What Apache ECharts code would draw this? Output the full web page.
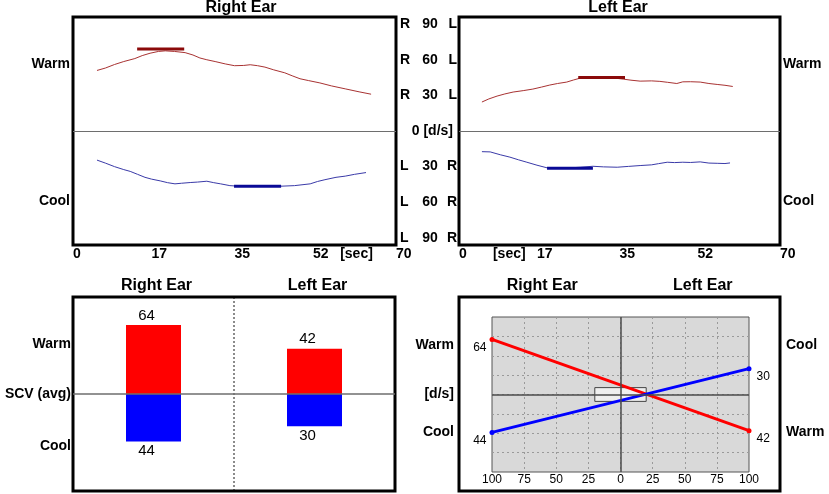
<!DOCTYPE html>
<html>
<head>
<meta charset="utf-8">
<title>Rotation test</title>
<script src="https://cdn.jsdelivr.net/npm/echarts@6/dist/echarts.min.js"></script>
<style>
	html, body { margin: 0; padding: 0; background: #fff; }
	#main { width: 829px; height: 494px; }
</style>
</head>
<body>
<div id="main"></div>
<script>
	var FONT = '"Liberation Sans", Arial, sans-serif';

	// slow component traces, [sec, deg/s]
	var rightWarm = [[5.2,51],[7,53],[9,56],[11,58.5],[13.4,61],[15,63.5],[16.7,65.5],[18.5,67],[20,67.5],[22,67],[24.3,66],[26,64],[27.5,61.5],[29,60],[30.8,58.5],[33,56.5],[35,55],[37,55.2],[38.4,55.8],[40,55],[41.6,53.8],[43.5,51.5],[45.9,49],[47.5,46.5],[49.2,44],[51,42.5],[53.5,40.5],[56,38],[59,35.5],[62,33],[64.6,31]];
	var rightCool = [[5.2,-24.5],[7,-27],[9,-30],[11,-32.5],[12.4,-34],[14,-36.5],[15.6,-39],[17,-40.5],[18.9,-42],[20.5,-43.5],[22.1,-44.5],[23.5,-44],[25.4,-43.4],[27,-43],[29,-42.3],[30.5,-43.5],[32,-44.5],[34,-46],[36,-46.5],[40,-46.5],[44.9,-46.5],[48,-46],[51.4,-44.5],[53,-42.5],[54.6,-41],[57,-39],[59,-38],[61,-36.5],[63.5,-35]];
	var leftWarm = [[5,24.4],[6.5,27],[8.3,29.4],[10,31.2],[11.8,32.8],[14,34],[16.1,35.3],[18,37],[19.8,38.7],[21.5,40],[23.5,41.2],[25,43],[26.4,44.5],[28,45],[30.7,45.4],[33,45],[35.8,43.7],[37.5,42.8],[39.5,42],[42,42.2],[43.8,41.8],[45.5,41],[47.5,40],[48.8,41.4],[50.5,41.5],[52.6,41.2],[54.5,40],[56.3,39.2],[58,38.5],[59.7,37.5]];
	var leftCool = [[5,-17.4],[6.8,-17.6],[9,-20],[11.1,-22],[13,-24.3],[14.8,-26.3],[17,-28.8],[19.2,-31],[22,-31.2],[24.2,-31],[26.5,-30.5],[29.2,-29.7],[31.5,-30.2],[34.5,-30.5],[37,-29.8],[39.5,-29.1],[42,-28.5],[43.5,-27.5],[45.4,-26.3],[47,-26.6],[48.8,-26.3],[50.5,-26.5],[52.6,-26],[54.5,-27],[56.3,-27.2],[58,-27.4],[59.1,-26.9]];

	// averaging windows (thick segments)
	var rightWarmAvg = [[13.9,69],[24.1,69]];
	var rightCoolAvg = [[34.9,-46.5],[45.1,-46.5]];
	var leftWarmAvg = [[26,45.1],[36.2,45.1]];
	var leftCoolAvg = [[19.2,-31.4],[29.2,-31.4]];

	// SCV averages
	var earCats = ['Right Ear', 'Left Ear'];
	var scvWarm = [64, 42];
	var scvCool = [44, 30];

	// tick labels
	var secTicksR = [0, 17, 35, 52, 57.9, 70];
	var secTextR = ['0', '17', '35', '52', '[sec]', '70'];
	var secTicksL = [0, 7.4, 17, 35, 52, 70];
	var secTextL = ['0', '[sec]', '17', '35', '52', '70'];
	var centreTicks = [90, 60, 30, 0, -30, -60, -90];
	var centreText = ['R 90 L', 'R 60 L', 'R 30 L', '0 [d/s]', 'L 30 R', 'L 60 R', 'L 90 R'];
	var traceSideTicks = [56, -59];
	var traceSideText = ['Warm', 'Cool'];
	var barSideTicks = [46, 0, -48];
	var barSideText = ['Warm', 'SCV (avg)', 'Cool'];
	var slopeLeftTicks = [57.5, 0, -43.5];
	var slopeLeftText = ['Warm', '[d/s]', 'Cool'];
	var slopeRightTicks = [57.5, -43.5];
	var slopeRightText = ['Cool', 'Warm'];

	function pick(vals, texts) {
		return function(v) {
			var i = vals.indexOf(v);
			return i == -1 ? '' : texts[i];
		};
	}

	var bold14 = {fontFamily: FONT, fontSize: 14, fontWeight: 'bold', color: '#000'};
	var noLine = {show: false};

	function secAxis(grid, vals, texts) {
		return {
			gridIndex: grid, type: 'value', min: 0, max: 70,
			axisLine: noLine, axisTick: noLine, splitLine: noLine,
			axisLabel: {
				customValues: vals, formatter: pick(vals, texts), align: 'left',
				margin: 2, hideOverlap: false,
				fontFamily: FONT, fontSize: 14, fontWeight: 'bold', color: '#000'
			}
		};
	}

	function labelAxis(grid, pos, min, max, vals, texts, margin) {
		return {
			gridIndex: grid, type: 'value', position: pos, min: min, max: max,
			axisLine: noLine, axisTick: noLine, splitLine: noLine,
			axisLabel: {
				customValues: vals, formatter: pick(vals, texts), margin: margin,
				hideOverlap: false,
				fontFamily: FONT, fontSize: 14, fontWeight: 'bold', color: '#000'
			}
		};
	}

	function zeroLine(color, width) {
		return {
			silent: true, symbol: 'none', label: {show: false},
			lineStyle: {color: color, width: width, type: 'solid'},
			data: [{yAxis: 0}]
		};
	}

	function trace(name, data, xi, yi, color, width, mark) {
		var s = {
			name: name, type: 'line', xAxisIndex: xi, yAxisIndex: yi,
			data: data, symbol: 'none', silent: true,
			lineStyle: {color: color, width: width}
		};
		if (mark) s.markLine = mark;
		return s;
	}

	function box(l, t, w, h) {
		return {left: l, top: t, width: w, height: h, show: true, z: 1,
			borderColor: '#000', borderWidth: 3, backgroundColor: 'transparent'};
	}

	var option = {
		animation: false,
		backgroundColor: '#fff',
		textStyle: {fontFamily: FONT},
		title: [
			{text: 'Right Ear', left: 241, top: 0, textAlign: 'center', padding: 0,
				textStyle: {fontFamily: FONT, fontSize: 16, fontWeight: 'bold', color: '#000'}},
			{text: 'Left Ear', left: 618, top: 0, textAlign: 'center', padding: 0,
				textStyle: {fontFamily: FONT, fontSize: 16, fontWeight: 'bold', color: '#000'}}
		],
		grid: [
			box(73, 17, 323, 228),
			box(459, 17, 321, 228),
			box(73, 297, 322, 194),
			box(459, 297, 321, 194),
			{left: 492, top: 317, width: 257, height: 155, show: true,
				backgroundColor: '#d9d9d9', borderColor: '#555', borderWidth: 1}
		],
		xAxis: [
			secAxis(0, secTicksR, secTextR),
			secAxis(1, secTicksL, secTextL),
			{
				gridIndex: 2, type: 'category', data: earCats, position: 'top',
				axisLine: noLine, axisTick: noLine,
				splitLine: {show: true, lineStyle: {color: '#666', width: 1.5, type: [2, 2]}},
				axisLabel: {margin: 3, padding: [0, 0, 0, 6],
					fontFamily: FONT, fontSize: 16, fontWeight: 'bold', color: '#000'}
			},
			{
				gridIndex: 3, type: 'category', data: earCats, position: 'top',
				axisLine: noLine, axisTick: noLine, splitLine: noLine,
				axisLabel: {margin: 3, padding: [0, 0, 0, 6],
					fontFamily: FONT, fontSize: 16, fontWeight: 'bold', color: '#000'}
			},
			{
				gridIndex: 4, type: 'value', min: -100, max: 100, interval: 25,
				axisLine: noLine, axisTick: noLine,
				splitLine: {show: true, showMinLine: false, showMaxLine: false,
					lineStyle: {color: '#9a9a9a', width: 1, type: [2, 3]}},
				axisLabel: {
					margin: 2, formatter: function(v) { return Math.abs(v); },
					fontFamily: FONT, fontSize: 12, color: '#000'
				}
			}
		],
		yAxis: [
			labelAxis(0, 'left', -96, 96, traceSideTicks, traceSideText, 3),
			{
				gridIndex: 0, type: 'value', position: 'right', min: -96, max: 96,
				axisLine: noLine, axisTick: noLine, splitLine: noLine,
				axisLabel: {
					customValues: centreTicks, margin: 4, align: 'left', hideOverlap: false,
					formatter: function(v) {
						var parts = pick(centreTicks, centreText)(v).split(' ');
						if (parts.length < 3) return '{z|' + parts.join(' ') + '}';
						return '{a|' + parts[0] + '}{b|' + parts[1] + '}{c|' + parts[2] + '}';
					},
					rich: {
						a: Object.assign({width: 17, align: 'left'}, bold14),
						b: Object.assign({width: 26, align: 'center'}, bold14),
						c: Object.assign({width: 14, align: 'right'}, bold14),
						z: Object.assign({width: 53, align: 'right'}, bold14)
					}
				}
			},
			labelAxis(1, 'right', -96, 96, traceSideTicks, traceSideText, 3),
			labelAxis(2, 'left', -90, 90, barSideTicks, barSideText, 2),
			{gridIndex: 3, type: 'value', show: false},
			{
				gridIndex: 4, type: 'value', position: 'left', min: -90, max: 90, interval: 22.5,
				axisLine: noLine, axisTick: noLine,
				splitLine: {show: true, showMinLine: false, showMaxLine: false,
					lineStyle: {color: '#9a9a9a', width: 1, type: [2, 3]}},
				axisLabel: {
					customValues: slopeLeftTicks, formatter: pick(slopeLeftTicks, slopeLeftText),
					margin: 38, hideOverlap: false,
					fontFamily: FONT, fontSize: 14, fontWeight: 'bold', color: '#000'
				}
			},
			labelAxis(4, 'right', -90, 90, slopeRightTicks, slopeRightText, 37)
		],
		series: [
			trace('Right warm', rightWarm, 0, 0, '#a83232', 1, zeroLine('#6e6e6e', 1)),
			trace('Right cool', rightCool, 0, 0, '#3a3aa8', 1),
			trace('Right warm avg', rightWarmAvg, 0, 0, '#8b0a0a', 3),
			trace('Right cool avg', rightCoolAvg, 0, 0, '#0a0a96', 3),
			trace('Left warm', leftWarm, 1, 2, '#a83232', 1, zeroLine('#6e6e6e', 1)),
			trace('Left cool', leftCool, 1, 2, '#3a3aa8', 1),
			trace('Left warm avg', leftWarmAvg, 1, 2, '#8b0a0a', 3),
			trace('Left cool avg', leftCoolAvg, 1, 2, '#0a0a96', 3),
			{
				name: 'Warm', type: 'bar', xAxisIndex: 2, yAxisIndex: 3, stack: 'scv',
				barWidth: 55, data: scvWarm, silent: true,
				itemStyle: {color: '#ff0000'},
				label: {show: true, position: 'top', distance: 2, offset: [-7, 0],
					fontFamily: FONT, fontSize: 15, color: '#000'},
				markLine: zeroLine('#6e6e6e', 1.5)
			},
			{
				name: 'Cool', type: 'bar', xAxisIndex: 2, yAxisIndex: 3, stack: 'scv',
				barWidth: 55, silent: true,
				data: scvCool.map(function(v) { return -v; }),
				itemStyle: {color: '#0000ff'},
				label: {show: true, position: 'bottom', distance: 2, offset: [-7, 0],
					formatter: function(p) { return Math.abs(p.value); },
					fontFamily: FONT, fontSize: 15, color: '#000'}
			},
			{
				name: 'Warm slope', type: 'line', xAxisIndex: 4, yAxisIndex: 5, silent: true,
				data: [[-100, scvWarm[0]], [100, -scvWarm[1]]],
				symbol: 'circle', symbolSize: 5, showSymbol: true,
				lineStyle: {color: '#ff0000', width: 3}, itemStyle: {color: '#ff0000'},
				label: {show: true, fontFamily: FONT, fontSize: 12, color: '#000',
					formatter: function(p) { return Math.abs(p.value[1]); }
				},
				markLine: {
					silent: true, symbol: 'none', label: {show: false},
					lineStyle: {color: '#4a4a4a', width: 1.5, type: 'solid'},
					data: [{xAxis: 0}, {yAxis: 0}]
				},
				markArea: {
					silent: true,
					itemStyle: {color: '#efefef', borderColor: '#444', borderWidth: 1},
					data: [[{xAxis: -20, yAxis: 8}, {xAxis: 20, yAxis: -8}]]
				}
			},
			{
				name: 'Cool slope', type: 'line', xAxisIndex: 4, yAxisIndex: 5, silent: true,
				data: [[-100, -scvCool[0]], [100, scvCool[1]]],
				symbol: 'circle', symbolSize: 5, showSymbol: true,
				lineStyle: {color: '#0000ff', width: 3}, itemStyle: {color: '#0000ff'},
				label: {show: true, fontFamily: FONT, fontSize: 12, color: '#000',
					formatter: function(p) { return Math.abs(p.value[1]); }
				}
			}
		]
	};

	// end-point labels sit below the dots, outside the plot
	[10, 11].forEach(function(i) {
		var s = option.series[i];
		s.data = s.data.map(function(d, j) {
			return {
				value: d,
				label: j == 0
					? {position: 'left', distance: 3, offset: [0, 8]}
					: {position: 'right', distance: 5, offset: [0, 8]}
			};
		});
	});

	var myChart = echarts.init(document.getElementById('main'));
	myChart.setOption(option);
</script>
</body>
</html>
